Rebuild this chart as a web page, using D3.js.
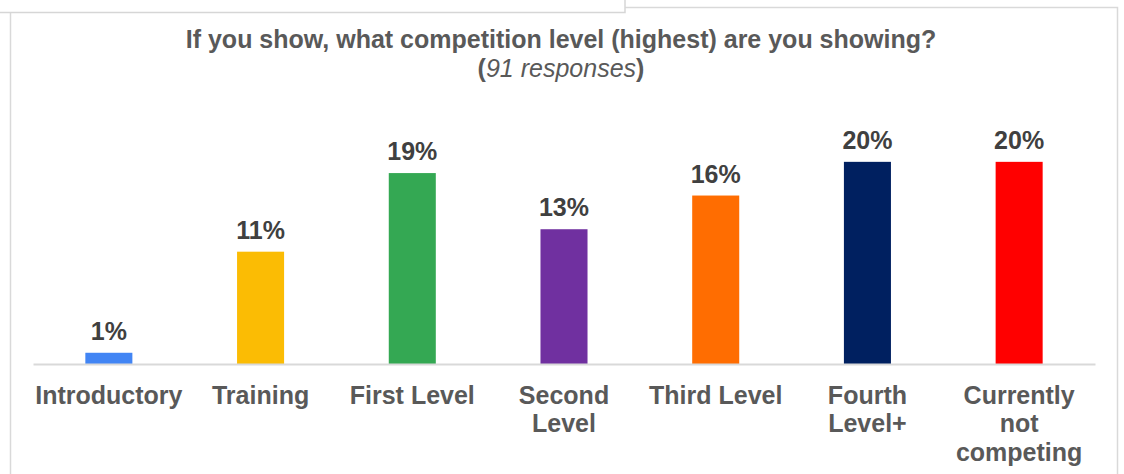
<!DOCTYPE html>
<html>
<head>
	<script src="https://cdn.jsdelivr.net/npm/d3@7"></script>
	<style>
		body { margin: 0; background: #fff; }
		svg { display: block; font-family: "Liberation Sans", Arial, sans-serif; }
	</style>
</head>
<body>
<svg id="container"></svg>
</body>
<script>
// data (percent of 91 responses)
let categories = ['Introductory', 'Training', 'First Level', 'Second Level', 'Third Level', 'Fourth Level+', 'Currently not competing'];
let values = [1.1, 11.0, 18.7, 13.2, 16.5, 19.8, 19.8];
let labels = ['1%', '11%', '19%', '13%', '16%', '20%', '20%'];
let colors = ['#4285F4', '#FBBC04', '#34A853', '#7030A0', '#FF6D01', '#002060', '#FF0000'];

let width = 1124, height = 474;
let svg = d3.select('#container').attr('width', width).attr('height', height);

// frame of the chart, partly covered by the box above it
svg.append('rect')
	.attr('x', 10.5).attr('y', 7.5)
	.attr('width', 1107).attr('height', 500)
	.attr('fill', '#fff')
	.attr('stroke', '#d9d9d9')
	.attr('stroke-width', 1.5);

svg.append('rect')
	.attr('x', -5).attr('y', -20)
	.attr('width', 630).attr('height', 32.5)
	.attr('fill', '#fff')
	.attr('stroke', '#d6d6d6')
	.attr('stroke-width', 1.5);

// title
let title = svg.append('text')
	.attr('x', 561).attr('y', 48)
	.attr('text-anchor', 'middle')
	.attr('fill', '#595959')
	.style('font-size', '25px')
	.style('font-weight', 'bold')
	.text('If you show, what competition level (highest) are you showing?');

let sub = svg.append('text')
	.attr('x', 561).attr('y', 77)
	.attr('text-anchor', 'middle')
	.attr('fill', '#595959')
	.style('font-size', '25px');
sub.append('tspan').style('font-weight', 'bold').text('(');
sub.append('tspan').style('font-style', 'italic').text('91 responses');
sub.append('tspan').style('font-weight', 'bold').text(')');

// scales
let x = d3.scaleBand()
	.domain(categories)
	.range([33, 1095])
	.paddingInner(0.69)
	.paddingOuter(0.345);

let y = d3.scaleLinear()
	.domain([0, 25])
	.range([364, 108.75]);

// bars
svg.append('g').selectAll('rect')
	.data(values)
	.enter()
	.append('rect')
	.attr('x', (d, i) => x(categories[i]))
	.attr('y', (d) => y(d))
	.attr('width', x.bandwidth())
	.attr('height', (d) => y(0) - y(d))
	.attr('fill', (d, i) => colors[i]);

// value labels
svg.append('g').selectAll('text')
	.data(values)
	.enter()
	.append('text')
	.attr('x', (d, i) => x(categories[i]) + x.bandwidth() / 2)
	.attr('y', (d) => y(d) - 13)
	.attr('text-anchor', 'middle')
	.attr('fill', '#404040')
	.style('font-size', '25px')
	.style('font-weight', 'bold')
	.text((d, i) => labels[i]);

// x axis
let xAxis = svg.append('g')
	.attr('transform', 'translate(0,' + y(0) + ')')
	.call(d3.axisBottom(x).tickSize(0).tickSizeOuter(0).tickPadding(0));

xAxis.select('.domain')
	.attr('stroke', '#d9d9d9')
	.attr('stroke-width', 2);

xAxis.selectAll('.tick text')
	.attr('fill', '#595959')
	.style('font-size', '25px')
	.style('font-weight', 'bold')
	.style('font-family', '"Liberation Sans", Arial, sans-serif')
	.attr('y', 40)
	.attr('dy', 0)
	.call(wrap, x.step());

function wrap(texts, w) {
	texts.each(function() {
		let text = d3.select(this);
		let words = text.text().split(' ');
		let yy = text.attr('y');
		text.text(null);
		let line = [];
		let lineNo = 0;
		let tspan = text.append('tspan').attr('x', 0).attr('y', yy);
		words.forEach(function(word) {
			line.push(word);
			tspan.text(line.join(' '));
			if (tspan.node().getComputedTextLength() > w && line.length > 1) {
				line.pop();
				tspan.text(line.join(' '));
				line = [word];
				lineNo++;
				tspan = text.append('tspan')
					.attr('x', 0)
					.attr('y', +yy + lineNo * 28.3)
					.text(word);
			}
		});
	});
}
</script>
</html>
